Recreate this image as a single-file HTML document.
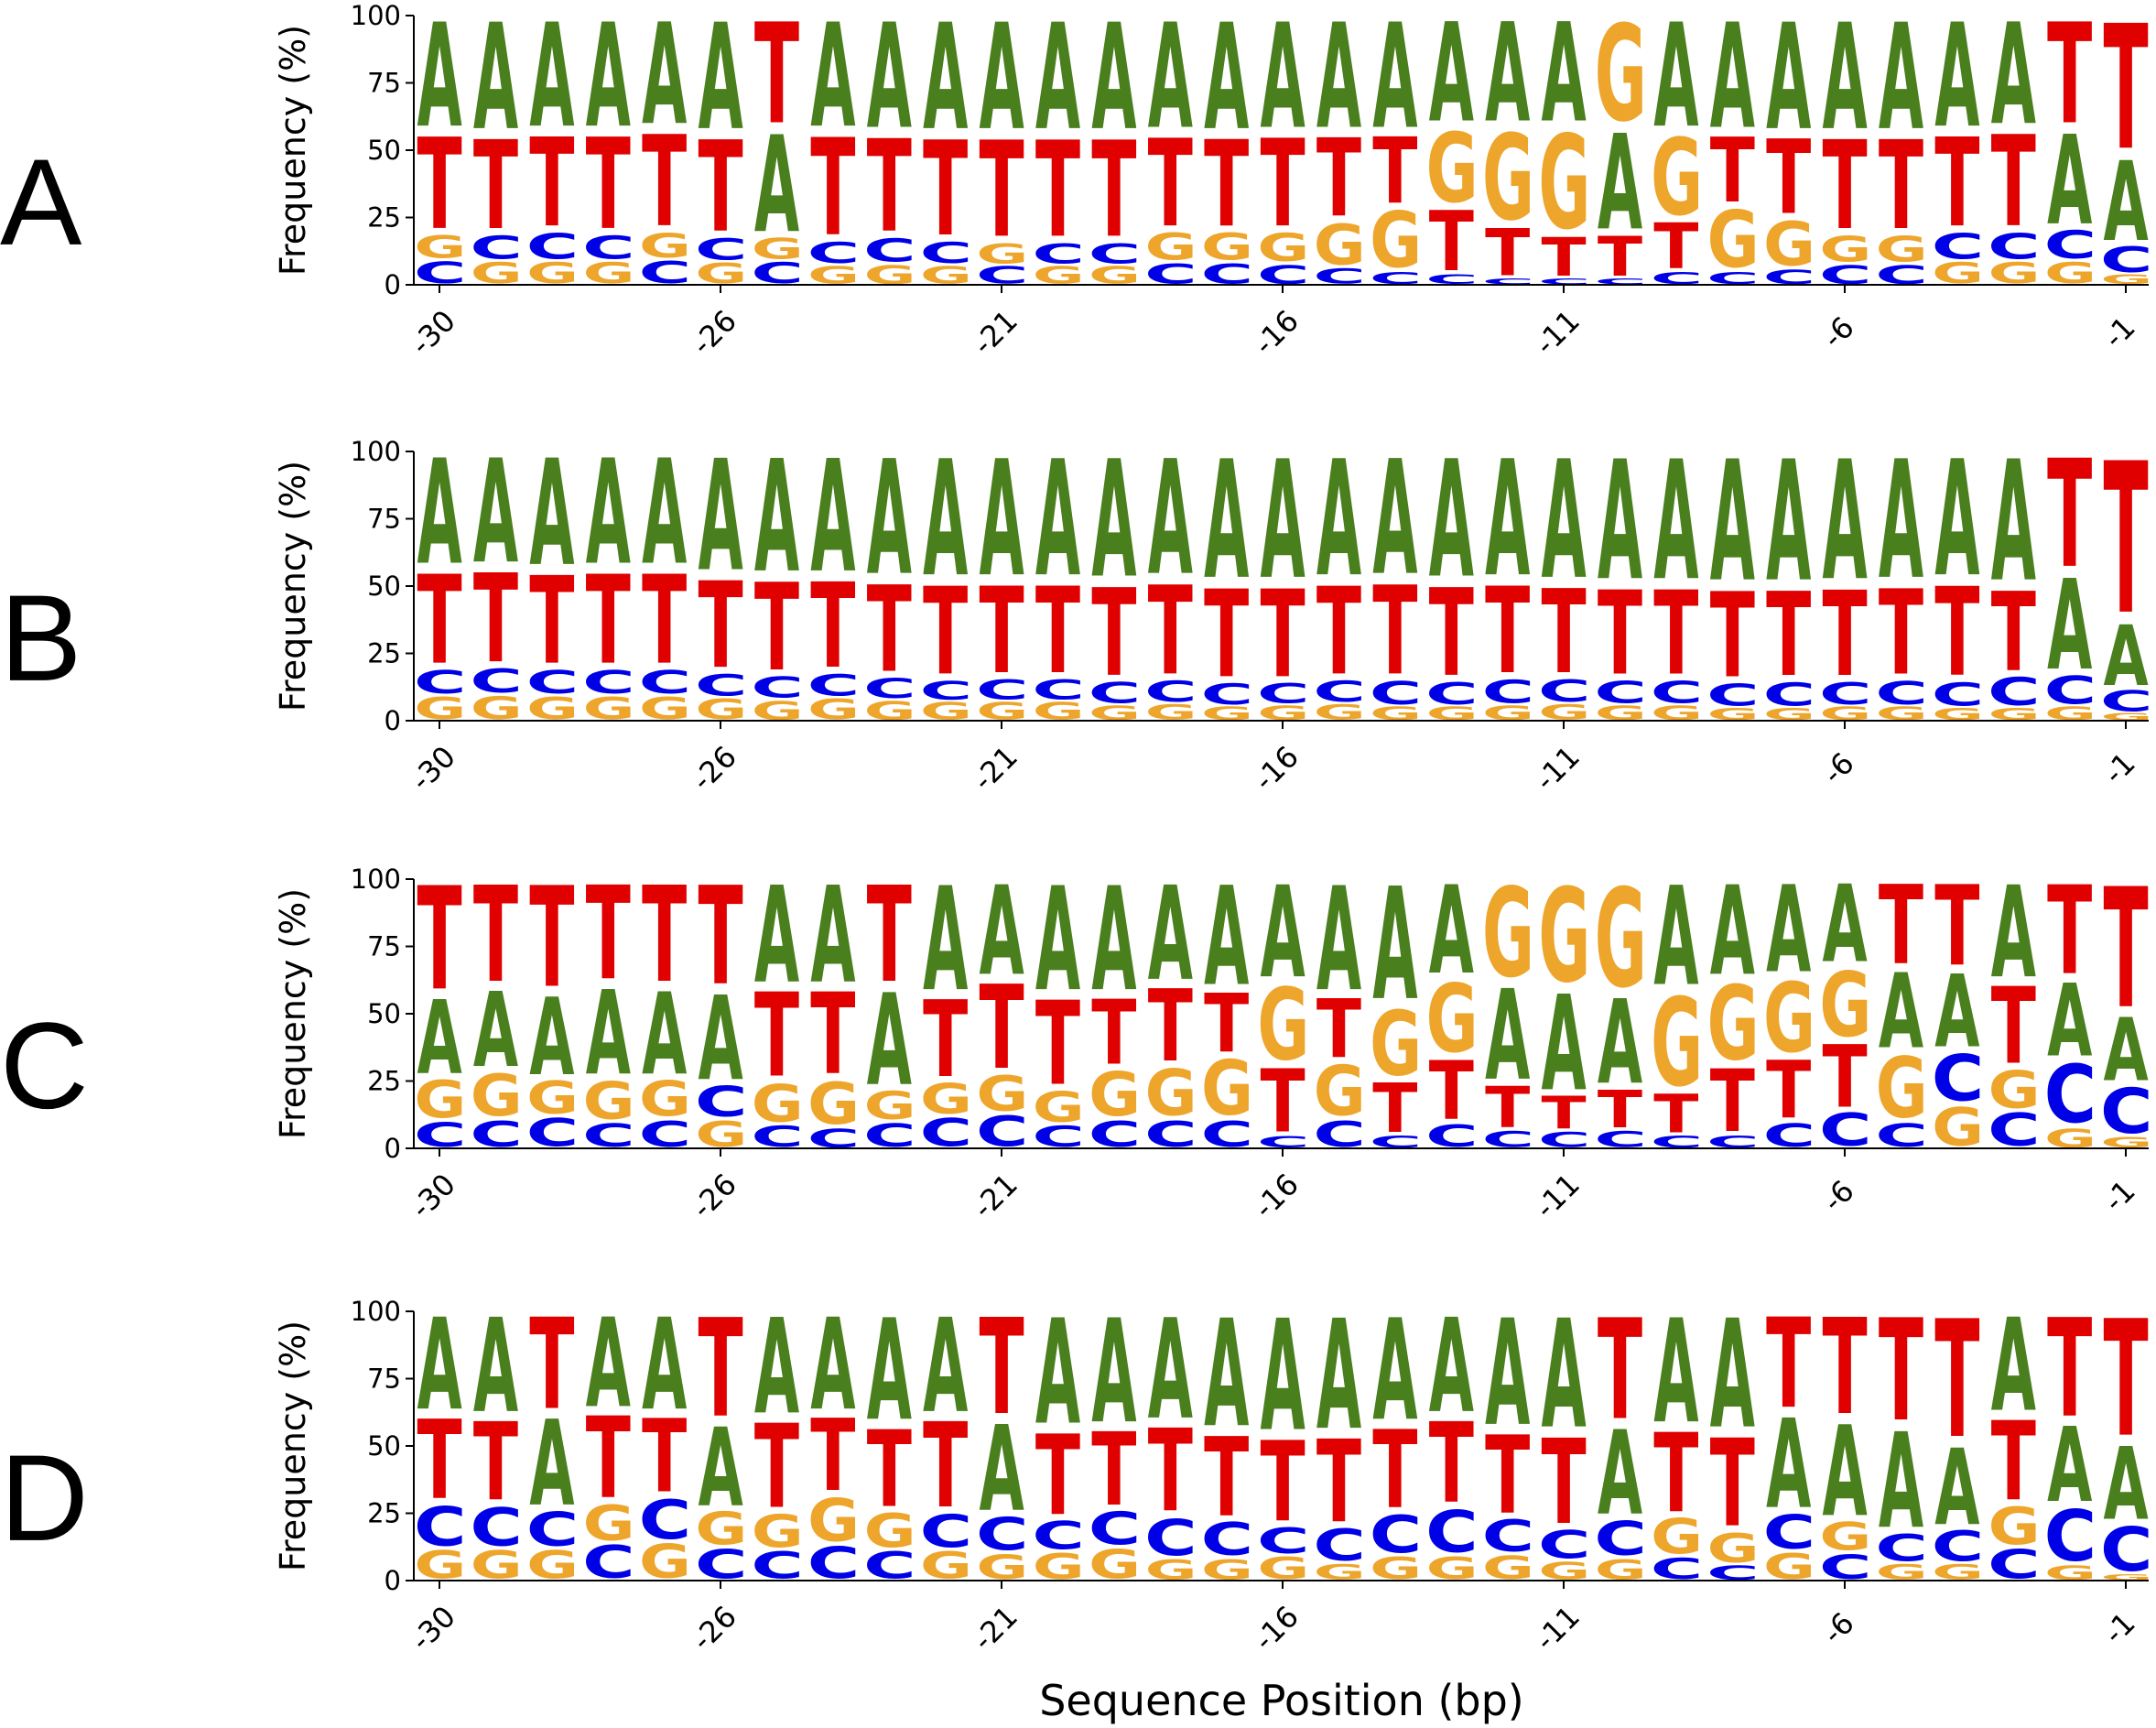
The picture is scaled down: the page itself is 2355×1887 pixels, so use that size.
<!DOCTYPE html>
<html><head><meta charset="utf-8">
<style>
html,body{margin:0;padding:0;background:#fff;}
svg{display:block;}
text{font-family:"DejaVu Sans","Liberation Sans",sans-serif;}
</style></head>
<body>
<svg id="chart" width="2355" height="1887" viewBox="0 0 2355 1887" xmlns="http://www.w3.org/2000/svg">
  <text x="1400" y="1873" font-size="46" text-anchor="middle" fill="#000">Sequence Position (bp)</text>
</svg>
<script>
// ---- data ----
const tickIdx = [0,5,10,15,20,25,30];
const tickLabels = ['-30','-26','-21','-16','-11','-6','-1'];
const yTicks = [0,25,50,75,100];
const panelNames = ['A','B','C','D'];

const A_A = [43,44,43,43,42,44,40,43,43.5,44,44,44,44,43.5,44,43.5,43.5,43.5,41,41,41,39.5,43,43.5,44,44,44,43,42,37,33];
const A_C = [9.3,10,11,10,9.5,9.2,9,9,10,9,7.5,8.5,8.5,8.5,8.5,8,6.5,5,4,2.5,2.5,2.5,5,5,6,8,8,11,11,12,11];
const A_G = [9.7,9,9,9,10.5,8.8,9,7.5,8,7.5,8.5,7.5,7.5,11.5,11.5,12,17.5,24,30,37,40.5,41.5,33,24.5,19,11,11,9,9,9,4];
const A_T = [38,37,37,38,38,38,42,40.5,38.5,39.5,40,40,40,36.5,36,36.5,32.5,27.5,25,19.5,16,16.5,19,27,31,37,37,37,38,42,52];

const B_A = [43.5,43,44,43.5,43.5,46,46.5,46.5,47.5,48,48,48,48.5,47.5,49,49,48,47.5,48.5,48,49,49.5,49.5,50,50,49.5,49,48,50,37.5,25];
const B_C = [10,10.2,10,10,10,9.2,9,9.2,8.5,8,8.5,8.5,9,9,9,8.5,9,10,9.5,10,9.5,9.5,9.5,9.5,10,9.5,10,10,12,12,9];
const B_G = [9.5,9.8,9.5,9.5,9.5,8.8,8,8.8,8,7.5,7.5,7.5,6,6.5,5.5,6,6.5,5.5,5.5,6,6.5,6,6,5,5,5.5,5.5,5,5,5.5,3];
const B_T = [37,37,36.5,37,37,36,36.5,35.5,36,36.5,36,36,36.5,37,36.5,36.5,36.5,37,36.5,36,35,35,35,35.5,35,35.5,35.5,37,33,45,63];

const C_A = [30.5,31,32,35,34,35,40,40,38,43,37,43,43,39,41,38,43,46.5,36.5,37.5,39.5,35,41,37,36,32,31,30,38,30,26];
const C_C = [10.5,11,12,10,11,13,9,8,10,12,13,9,11,11,11,4.8,11,5,9.5,7,6.5,7,5,5,10,14,10,20,14,25,19.5];
const C_G = [16,18,14,16,15,11,16,18,12,13,15,13,19,20,23.5,31,21.5,28,29.5,38.5,40.5,42.5,38,32,30,28,26,16.5,16,8,4.5];
const C_T = [43,40,42,39,40,41,35,34,40,32,35,35,27,30,24.5,26.2,24.5,20.5,24.5,17,13.5,15.5,16,26,24,26,33,33.5,32,37,50];

const D_A = [38,39,35.5,37,38,32.5,39.5,38,42,39,35.5,43.5,43,41.5,44.5,46,45.5,42,39,44,45,35,43,45,37,37.5,39.5,31.5,38.5,31,30];
const D_C = [17,16.5,14.5,14,17,12.5,11.5,13.5,11.5,14,14,12,14,15.5,14,11,13.5,16,18,13.5,12,14.5,9,6,14.5,10.5,11.5,13,12.5,22,19];
const D_G = [12,12,12,15,14.5,14,14,18.5,14.5,11.5,10.5,11,12.5,8.5,8.5,9.5,6.5,9.5,9.5,10,7.5,8.5,15,12.5,11,12,6.5,6.5,16,6,2.5];
const D_T = [33,32.5,38,34,30.5,41,35,30,32,35.5,40,33.5,30.5,34.5,33,33.5,34.5,32.5,33.5,32.5,35.5,42,33,36.5,37.5,40,42.5,49,33,41,48.5];

const panelData = [
  {A:A_A,C:A_C,G:A_G,T:A_T},
  {A:B_A,C:B_C,G:B_G,T:B_T},
  {A:C_A,C:C_C,G:C_G,T:C_T},
  {A:D_A,C:D_C,G:D_G,T:D_T}
];

// ---- layout ----
const NS = 'http://www.w3.org/2000/svg';
const svg = document.getElementById('chart');
const panelTop = [17,493,960,1432];
const panelH = 294;
const spineX = 452, rightX = 2347;
const x0 = 480, step = 61.4, letterW = 49;
const colors = {A:'#4a7f1e', C:'#0000e6', G:'#eda52b', T:'#e00000'};
const FS = 200;
const fontStr = 'bold ' + FS + 'px "DejaVu Sans"';
const ctx = document.createElement('canvas').getContext('2d');
ctx.font = fontStr;
const metrics = {};
['A','C','G','T'].forEach(function(ch){
  const m = ctx.measureText(ch);
  metrics[ch] = {L:m.actualBoundingBoxLeft, R:m.actualBoundingBoxRight, asc:m.actualBoundingBoxAscent, desc:m.actualBoundingBoxDescent};
});

function xPos(i){ return x0 + i*step; }

panelData.forEach(function(d, p){
  const top = panelTop[p], bottom = top + panelH;
  const yScale = function(v){ return bottom - v/100*panelH; };
  const g = document.createElementNS(NS,'g');
  
  
  svg.appendChild(g);

  const pl = document.createElementNS(NS,'text');
  
  
  pl.setAttribute('x', 0); pl.setAttribute('y', top + panelH*0.69 + 47);
  pl.setAttribute('font-size', 134);
  pl.setAttribute('style', 'font-family:"Liberation Sans",sans-serif');
  pl.textContent = panelNames[p];
  g.appendChild(pl);

  const yt = document.createElementNS(NS,'text');
  
  
  yt.setAttribute('transform', 'translate(333,' + (top + panelH/2) + ') rotate(-90)');
  yt.setAttribute('font-size', 38);
  yt.setAttribute('text-anchor', 'middle');
  yt.textContent = 'Frequency (%)';
  g.appendChild(yt);

  const n = d.A.length;
  for (let i = 0; i < n; i++) {
    const items = ['A','C','G','T'].map(function(k){ return {k:k, v:d[k][i]}; });
    items.sort(function(a,b){ return a.v - b.v; });
    let cum = 0;
    items.forEach(function(it){
      const lo = cum, hi = cum + it.v; cum = hi;
      const pad = it.v * 0.05;
      const yb = yScale(lo + pad), yt2 = yScale(hi - pad);
      const bx0 = xPos(i) - letterW/2;
      const m = metrics[it.k];
      const sx = letterW / (m.L + m.R);
      const sy = (yb - yt2) / (m.asc + m.desc);
      const t = document.createElementNS(NS,'text');
      
      
      t.setAttribute('font-size', FS);
      t.setAttribute('font-weight', 'bold');
      t.setAttribute('fill', colors[it.k]);
      t.setAttribute('transform', 'translate(' + (bx0 + m.L*sx) + ',' + (yt2 + m.asc*sy) + ') scale(' + sx + ',' + sy + ')');
      t.textContent = it.k;
      g.appendChild(t);
    });
  }

  const ax = document.createElementNS(NS,'path');
  
  
  ax.setAttribute('d', 'M' + spineX + ' ' + top + ' V' + bottom + ' H' + rightX);
  ax.setAttribute('stroke', '#000'); ax.setAttribute('stroke-width', 2); ax.setAttribute('fill','none');
  g.appendChild(ax);

  yTicks.forEach(function(v){
    const y = yScale(v);
    const tk = document.createElementNS(NS,'line');
    
    
    tk.setAttribute('x1', spineX - 9); tk.setAttribute('x2', spineX);
    tk.setAttribute('y1', y); tk.setAttribute('y2', y);
    tk.setAttribute('stroke', '#000'); tk.setAttribute('stroke-width', 2);
    g.appendChild(tk);
    const tl = document.createElementNS(NS,'text');
    
    
    tl.setAttribute('x', spineX - 14); tl.setAttribute('y', y + 10);
    tl.setAttribute('font-size', 29); tl.setAttribute('text-anchor', 'end');
    tl.textContent = String(v);
    g.appendChild(tl);
  });

  tickIdx.forEach(function(idx, j){
    const x = xPos(idx);
    const tk = document.createElementNS(NS,'line');
    
    
    tk.setAttribute('x1', x); tk.setAttribute('x2', x);
    tk.setAttribute('y1', bottom); tk.setAttribute('y2', bottom + 9);
    tk.setAttribute('stroke', '#000'); tk.setAttribute('stroke-width', 2);
    g.appendChild(tk);
    const tl = document.createElementNS(NS,'text');
    
    
    tl.setAttribute('transform', 'translate(' + (x - 7) + ',' + (bottom + 52) + ') rotate(-45)');
    tl.setAttribute('font-size', 32); tl.setAttribute('text-anchor', 'middle');
    tl.setAttribute('dominant-baseline', 'central');
    tl.textContent = tickLabels[j];
    g.appendChild(tl);
  });
});
</script>
</body></html>
